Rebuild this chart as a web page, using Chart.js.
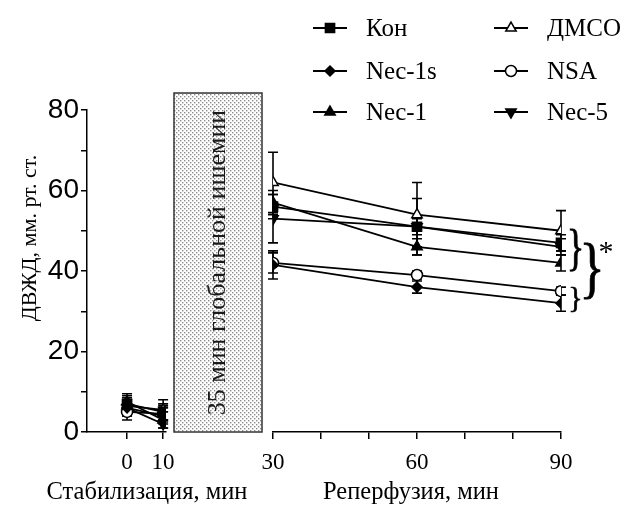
<!DOCTYPE html>
<html>
<head>
<meta charset="utf-8">
<script src="https://cdn.jsdelivr.net/npm/chart.js@4.4.1/dist/chart.umd.min.js"></script>
<style>
  body { margin: 0; background: #fff; }
  #wrap { width: 627px; height: 512px; }
</style>
</head>
<body>
<div id="wrap"><canvas id="chart"></canvas></div>
<script>
// groups and time points
const groups = ['Кон', 'ДМСО', 'Nec-1s', 'NSA', 'Nec-1', 'Nec-5'];
const times = [0, 10, 30, 60, 90];
const stabTicks = [0, 10];
const reperfTicks = [30, 60, 90];
const yTicks = [0, 20, 40, 60, 80];

// means and SD per group (mm Hg), same order as times
const konMean = [7, 5, 56, 51, 47];
const konSd = [2, 2, 3, 7, 2];
const dmsoMean = [6.5, 5.5, 62, 54, 50];
const dmsoSd = [2, 2.5, 7.5, 8, 5];
const nec1sMean = [6, 4, 41.5, 36, 32];
const nec1sSd = [2, 2, 3.5, 1.5, 2];
const nsaMean = [5, 4.5, 42, 39, 35];
const nsaSd = [2, 2, 2.5, 1, 1];
const nec1Mean = [7.5, 3, 57, 46, 42];
const nec1Sd = [2, 2, 3, 2, 2];
const nec5Mean = [6, 2, 53, 51, 46];
const nec5Sd = [2, 1, 6, 2, 2];

const means = [konMean, dmsoMean, nec1sMean, nsaMean, nec1Mean, nec5Mean];
const sds = [konSd, dmsoSd, nec1sSd, nsaSd, nec1Sd, nec5Sd];

// marker styles
const markers = [
    { pointStyle: 'rect', radius: 6.5, fill: '#000', rotation: 0 },
    { pointStyle: 'triangle', radius: 6, fill: '#fff', rotation: 0 },
    { pointStyle: 'rectRot', radius: 5, fill: '#000', rotation: 0 },
    { pointStyle: 'circle', radius: 5.5, fill: '#fff', rotation: 0 },
    { pointStyle: 'triangle', radius: 6, fill: '#000', rotation: 0 },
    { pointStyle: 'triangle', radius: 6, fill: '#000', rotation: 180 }
];

const serif = '"Liberation Serif", "Times New Roman", serif';
const sans = '"Liberation Sans", Arial, sans-serif';

const datasets = [];
groups.forEach((g, gi) => {
    const style = markers[gi];
    const parts = [
        { axis: 'xL', idx: times.map((t, i) => i).filter(i => times[i] <= 10) },
        { axis: 'xR', idx: times.map((t, i) => i).filter(i => times[i] >= 30) }
    ];
    parts.forEach(part => {
        datasets.push({
            label: g,
            xAxisID: part.axis,
            yAxisID: 'y',
            data: part.idx.map(i => ({ x: times[i], y: means[gi][i] })),
            errors: part.idx.map(i => sds[gi][i]),
            borderColor: '#000',
            borderWidth: 1.8,
            backgroundColor: style.fill,
            pointBackgroundColor: style.fill,
            pointBorderColor: '#000',
            pointBorderWidth: 1.5,
            pointStyle: style.pointStyle,
            pointRadius: style.radius,
            pointRotation: style.rotation,
            tension: 0,
            fill: false
        });
    });
});

function dotPattern(ctx) {
    const c = document.createElement('canvas');
    c.width = 4; c.height = 4;
    const g = c.getContext('2d');
    g.fillStyle = '#fff';
    g.fillRect(0, 0, 4, 4);
    g.fillStyle = '#8c8c8c';
    g.fillRect(0, 0, 1.4, 1.4);
    g.fillRect(2, 2, 1.4, 1.4);
    return ctx.createPattern(c, 'repeat');
}

function brace(ctx, x, top, bottom, width) {
    ctx.save();
    ctx.font = '100px ' + serif;
    const m = ctx.measureText('}');
    const w = m.actualBoundingBoxRight + m.actualBoundingBoxLeft;
    const h = m.actualBoundingBoxAscent + m.actualBoundingBoxDescent;
    const size = 100 * width / w;
    const sy = (bottom - top) / (h * size / 100);
    ctx.translate(x, top);
    ctx.scale(1, sy);
    ctx.font = size + 'px ' + serif;
    ctx.fillStyle = '#000';
    ctx.strokeStyle = '#000';
    ctx.lineWidth = 0.6;
    ctx.textAlign = 'left';
    ctx.textBaseline = 'alphabetic';
    ctx.fillText('}', m.actualBoundingBoxLeft * size / 100, m.actualBoundingBoxAscent * size / 100);
    ctx.strokeText('}', m.actualBoundingBoxLeft * size / 100, m.actualBoundingBoxAscent * size / 100);
    ctx.restore();
}

function marker(ctx, style, x, y) {
    ctx.save();
    ctx.fillStyle = style.fill;
    ctx.strokeStyle = '#000';
    ctx.lineWidth = 1.5;
    Chart.helpers.drawPoint(ctx, { pointStyle: style.pointStyle, radius: style.radius, rotation: style.rotation, borderWidth: 1.5 }, x, y);
    ctx.restore();
}

const decor = {
    id: 'decor',
    beforeDatasetsDraw(chart) {
        const ctx = chart.ctx;
        const area = chart.chartArea;
        const xM = chart.scales.xM;
        const y = chart.scales.y;

        // ischemia box
        const bx = xM.left + 8, bw = xM.right - 11 - bx;
        const by = area.top - 17, bh = area.bottom - by;
        ctx.save();
        ctx.fillStyle = dotPattern(ctx);
        ctx.fillRect(bx, by, bw, bh);
        ctx.strokeStyle = '#333';
        ctx.lineWidth = 1.5;
        ctx.strokeRect(bx, by, bw, bh);
        ctx.translate(bx + bw / 2, by + bh / 2);
        ctx.rotate(-Math.PI / 2);
        ctx.font = '26px ' + serif;
        ctx.fillStyle = '#1a1a1a';
        ctx.textAlign = 'center';
        ctx.textBaseline = 'middle';
        ctx.fillText('35 мин глобальной ишемии', 0, 0);
        ctx.restore();

        // error bars
        ctx.save();
        ctx.strokeStyle = '#000';
        ctx.lineWidth = 1.6;
        chart.data.datasets.forEach(ds => {
            const xs = chart.scales[ds.xAxisID];
            ds.data.forEach((p, i) => {
                const px = xs.getPixelForValue(p.x);
                const t = y.getPixelForValue(p.y + ds.errors[i]);
                const b = y.getPixelForValue(p.y - ds.errors[i]);
                ctx.beginPath();
                ctx.moveTo(px, t); ctx.lineTo(px, b);
                ctx.moveTo(px - 5, t); ctx.lineTo(px + 5, t);
                ctx.moveTo(px - 5, b); ctx.lineTo(px + 5, b);
                ctx.stroke();
            });
        });
        ctx.restore();
    },
    afterDraw(chart) {
        const ctx = chart.ctx;
        const area = chart.chartArea;
        const y = chart.scales.y;
        const xL = chart.scales.xL;
        const xR = chart.scales.xR;

        // legend, two columns
        const colX = [313, 494];
        const rowY = [28, 71, 112];
        ctx.save();
        groups.forEach((g, i) => {
            const x0 = colX[i % 2];
            const yy = rowY[Math.floor(i / 2)];
            ctx.strokeStyle = '#000';
            ctx.lineWidth = 1.8;
            ctx.beginPath();
            ctx.moveTo(x0, yy); ctx.lineTo(x0 + 34, yy);
            ctx.stroke();
            marker(ctx, markers[i], x0 + 17, yy);
            ctx.fillStyle = '#000';
            ctx.font = '25px ' + serif;
            ctx.textAlign = 'left';
            ctx.textBaseline = 'middle';
            ctx.fillText(g, x0 + 53, yy + 1);
        });
        ctx.restore();

        // axis titles
        ctx.save();
        ctx.fillStyle = '#000';
        ctx.font = '24.5px ' + serif;
        ctx.textAlign = 'center';
        ctx.textBaseline = 'middle';
        ctx.fillText('Стабилизация, мин', xL.right - 19, 493);
        ctx.fillText('Реперфузия, мин', xR.left + 138, 493);
        ctx.translate(30, area.top + 128);
        ctx.rotate(-Math.PI / 2);
        ctx.font = '22px ' + serif;
        ctx.fillText('ДВЖД, мм. рт. ст.', 0, 0);
        ctx.restore();

        // significance braces
        const bxr = xR.right;
        brace(ctx, bxr + 9, y.getPixelForValue(50.6), y.getPixelForValue(40.1), 11);
        brace(ctx, bxr + 23, y.getPixelForValue(47.1), y.getPixelForValue(33.2), 16);
        brace(ctx, bxr + 10, y.getPixelForValue(36.4), y.getPixelForValue(30.2), 9);
        ctx.save();
        ctx.font = '30px ' + serif;
        ctx.fillStyle = '#000';
        ctx.textAlign = 'center';
        ctx.textBaseline = 'middle';
        ctx.fillText('*', bxr + 45, y.getPixelForValue(44.5));
        ctx.restore();
    }
};

const xGrid = { drawOnChartArea: false, drawTicks: true, tickLength: 7, color: '#000', lineWidth: 1.5 };
const xBorder = { display: true, color: '#000', width: 1.5 };
const xTickFont = { family: serif, size: 23 };

new Chart(document.getElementById('chart'), {
    type: 'line',
    data: { datasets: datasets },
    options: {
        responsive: true,
        maintainAspectRatio: false,
        animation: false,
        layout: { padding: { top: 110, right: 66, left: 0, bottom: 0 } },
        plugins: { legend: { display: false }, tooltip: { enabled: false } },
        scales: {
            xL: {
                type: 'linear', position: 'bottom', stack: 'x', stackWeight: 79,
                min: -11.1, max: 10.8,
                afterBuildTicks: s => { s.ticks = stabTicks.map(v => ({ value: v })); },
                afterFit: s => { s.height = 80; },
                grid: xGrid, border: xBorder,
                ticks: { font: xTickFont, color: '#000', padding: 10, maxRotation: 0 }
            },
            xM: {
                type: 'linear', position: 'bottom', stack: 'x', stackWeight: 107,
                min: 10, max: 30,
                afterFit: s => { s.height = 80; },
                grid: { display: false }, border: { display: false },
                ticks: { display: false }
            },
            xR: {
                type: 'linear', position: 'bottom', stack: 'x', stackWeight: 288,
                min: 30, max: 90,
                afterFit: s => { s.height = 80; },
                grid: xGrid, border: xBorder,
                ticks: {
                    stepSize: 10, font: xTickFont, color: '#000', padding: 10, maxRotation: 0,
                    callback: v => reperfTicks.includes(v) ? v : ''
                }
            },
            y: {
                type: 'linear', position: 'left', min: 0, max: 80,
                afterFit: s => { s.width = 87; },
                grid: { drawOnChartArea: false, drawTicks: true, tickLength: 6, color: '#000', lineWidth: 1.5 },
                border: { display: true, color: '#000', width: 1.5 },
                ticks: {
                    stepSize: 10, font: { family: sans, size: 28 }, color: '#000', padding: 2,
                    callback: v => yTicks.includes(v) ? v : ''
                }
            }
        }
    },
    plugins: [decor]
});
</script>
</body>
</html>
